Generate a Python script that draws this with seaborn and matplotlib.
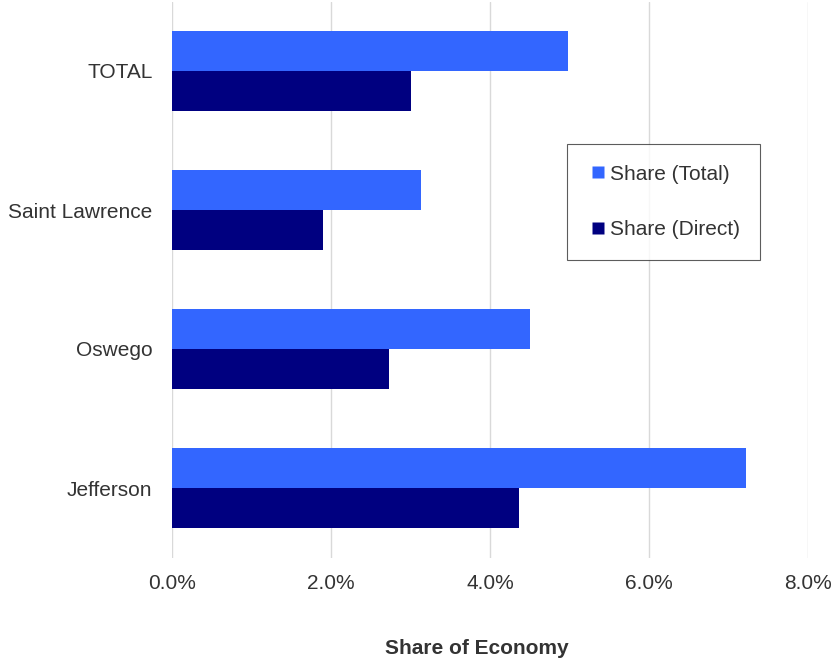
import pandas as pd
import seaborn as sns
import matplotlib.pyplot as plt
from matplotlib.lines import Line2D
from matplotlib.ticker import PercentFormatter

regions = ["TOTAL", "Saint Lawrence", "Oswego", "Jefferson"]
share_total = [4.98, 3.13, 4.50, 7.22]
share_direct = [3.01, 1.90, 2.73, 4.37]
series_names = ["Share (Total)", "Share (Direct)"]
colors = ["#3366FF", "#000080"]

df = pd.DataFrame({
    "region": regions * 2,
    "share": share_total + share_direct,
    "series": [series_names[0]] * len(regions) + [series_names[1]] * len(regions),
})

sns.set_style("white")
plt.rcParams["font.family"] = ["Liberation Sans", "DejaVu Sans"]
text_col = "#333333"
fs = 15

fig = plt.figure(figsize=(8.34, 6.58), dpi=100)
ax = fig.add_axes([172 / 834, 1 - 557.5 / 658, 636 / 834, 556 / 658])

sns.barplot(
    data=df, y="region", x="share", hue="series", order=regions,
    hue_order=series_names, palette=colors, orient="h", width=0.57,
    gap=0, ax=ax, edgecolor="none", saturation=1, legend=False,
)

ax.set_xlim(0, 8)
ax.set_xticks([0, 2, 4, 6, 8])
ax.xaxis.set_major_formatter(PercentFormatter(xmax=100, decimals=1))
ax.grid(axis="x", color="#d9d9d9", linewidth=1)
ax.set_axisbelow(True)
for s in ax.spines.values():
    s.set_visible(False)
ax.tick_params(axis="both", length=0, labelsize=fs, labelcolor=text_col)
ax.tick_params(axis="x", pad=12)
ax.tick_params(axis="y", pad=14)
ax.set_ylabel("")
ax.set_xlabel("Share of Economy", fontsize=fs, fontweight="bold", color=text_col)
ax.xaxis.set_label_coords((477 - 172) / 636, -(639 - 557.5) / 556)

# square legend markers
handles = [
    Line2D([], [], linestyle="none", marker="s", markersize=8.5,
           markerfacecolor=c, markeredgecolor="none")
    for c in colors
]
leg = ax.legend(
    handles, series_names, loc="upper left", bbox_to_anchor=(0.621, 0.744),
    borderaxespad=0, frameon=True, fancybox=False, edgecolor="#333333",
    handlelength=1.0, handletextpad=0.05, labelspacing=1.75, borderpad=1.0,
    fontsize=fs, labelcolor=text_col,
)
leg.get_frame().set_linewidth(0.8)

fig.savefig("out.png", dpi=100)
